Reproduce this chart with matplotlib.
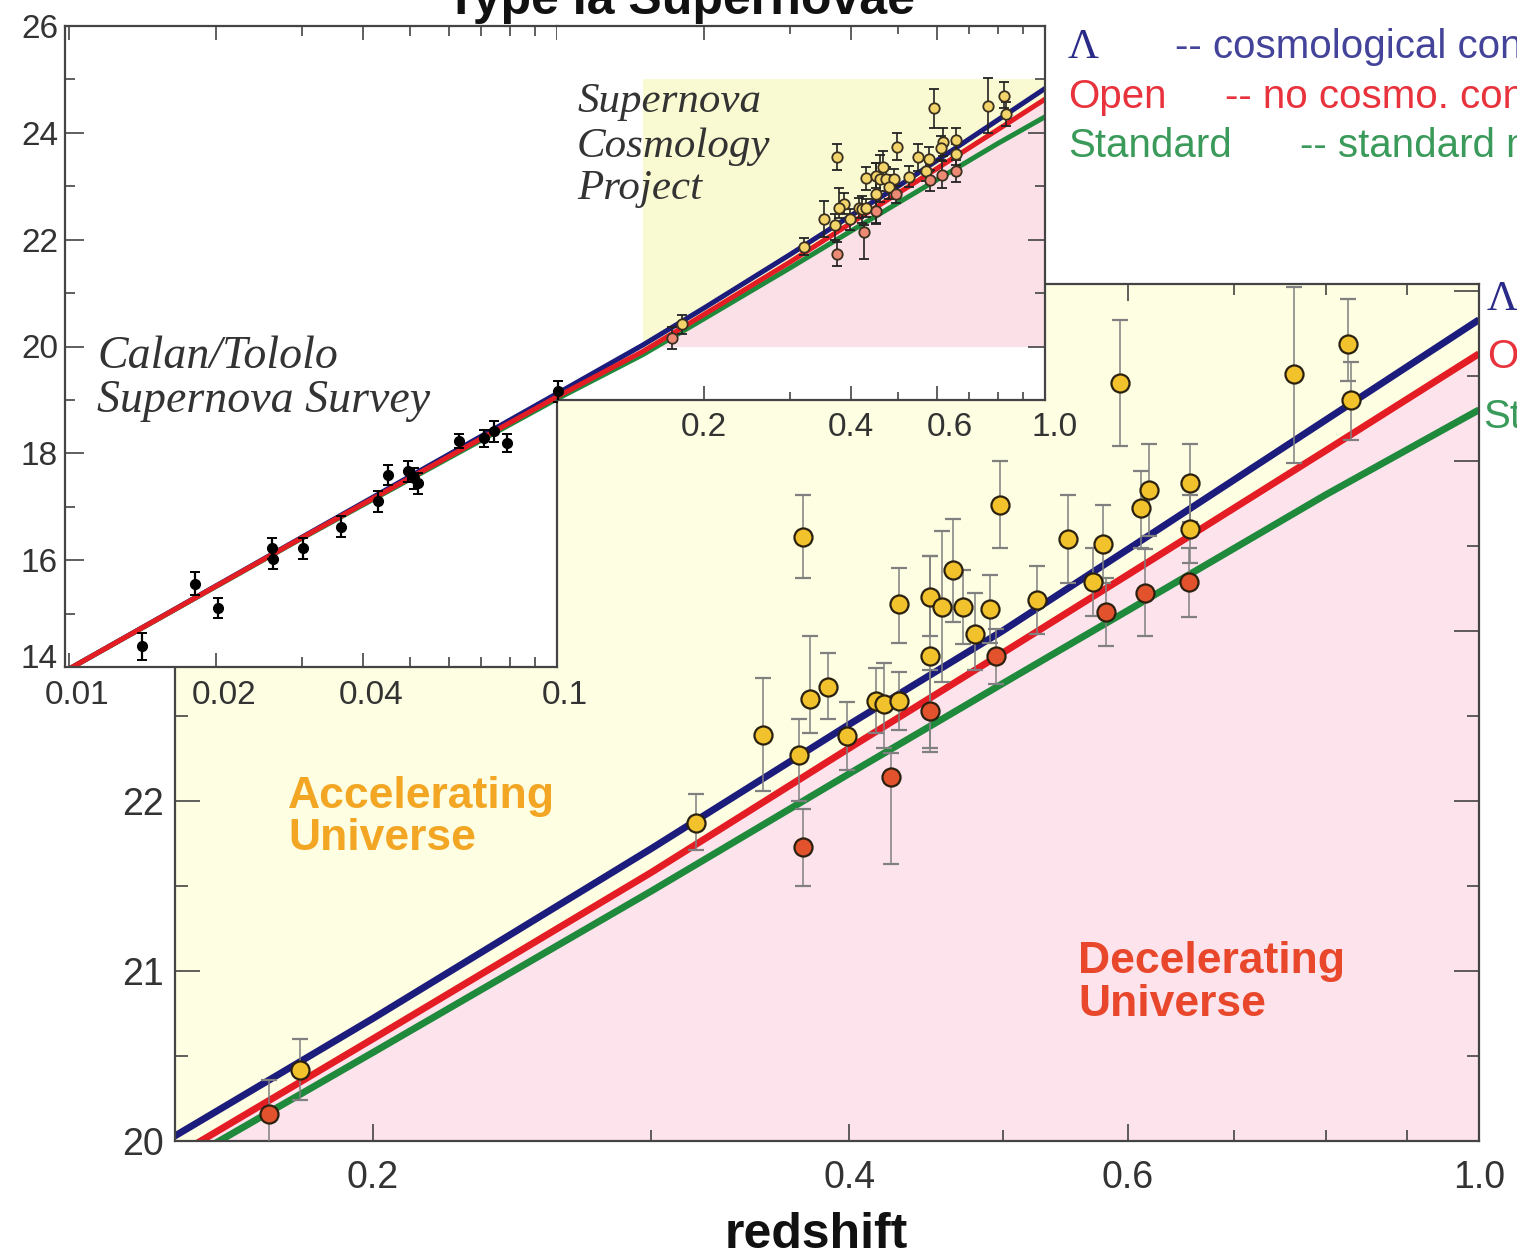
import numpy as np
import matplotlib
matplotlib.use("Agg")
import matplotlib.pyplot as plt
import matplotlib.transforms as mtrans
from matplotlib.ticker import NullFormatter

plt.rcParams['font.family'] = ['Liberation Sans', 'DejaVu Sans']

# ---------------- data ----------------
# model curves (redshift, effective magnitude)
model_z = [0.0098, 0.03, 0.1, 0.15, 0.2, 0.3, 0.4, 0.5, 0.6, 0.8, 1.0]
m_lambda = [13.92, 16.43, 19.12, 20.03, 20.72, 21.72, 22.45, 23.00, 23.48, 24.24, 24.83]
m_open = [13.92, 16.42, 19.06, 19.91, 20.60, 21.58, 22.31, 22.87, 23.33, 24.06, 24.63]
m_standard = [13.92, 16.41, 19.02, 19.85, 20.52, 21.47, 22.16, 22.69, 23.12, 23.80, 24.30]

# Supernova Cosmology Project (high-z) supernovae
scp_z = [0.374, 0.498, 0.465, 0.430, 0.450, 0.458, 0.472, 0.491, 0.480, 0.450,
         0.495, 0.450, 0.388, 0.378, 0.416, 0.421, 0.430, 0.353, 0.399, 0.372,
         0.425, 0.374, 0.320, 0.593, 0.764, 0.826, 0.830, 0.657, 0.657, 0.656,
         0.619, 0.612, 0.615, 0.550, 0.579, 0.570, 0.581, 0.526, 0.180, 0.172]
scp_m = [23.55, 23.74, 23.36, 23.16, 23.20, 23.14, 23.14, 23.13, 22.98, 22.85,
         22.85, 22.53, 22.67, 22.60, 22.59, 22.57, 22.59, 22.39, 22.38, 22.27,
         22.14, 21.73, 21.87, 24.46, 24.51, 24.69, 24.36, 23.87, 23.60, 23.29,
         23.83, 23.72, 23.22, 23.54, 23.51, 23.29, 23.11, 23.18, 20.42, 20.16]
scp_err_lo = [0.24, 0.25, 0.31, 0.23, 0.23, 0.44, 0.22, 0.20, 0.21, 0.54,
              0.16, 0.24, 0.19, 0.20, 0.19, 0.26, 0.17, 0.33, 0.20, 0.27,
              0.51, 0.23, 0.16, 0.37, 0.52, 0.22, 0.24, 0.23, 0.20, 0.21,
              0.27, 0.23, 0.25, 0.26, 0.23, 0.20, 0.20, 0.20, 0.18, 0.20]
scp_err_hi = [0.25, 0.26, 0.30, 0.21, 0.24, 0.45, 0.22, 0.20, 0.24, 0.59,
              0.16, 0.24, 0.20, 0.37, 0.19, 0.24, 0.17, 0.33, 0.20, 0.21,
              0.14, 0.22, 0.17, 0.37, 0.51, 0.26, 0.22, 0.23, 0.20, 0.20,
              0.27, 0.22, 0.26, 0.26, 0.23, 0.20, 0.20, 0.20, 0.18, 0.20]
scp_kind = ['Y', 'Y', 'Y', 'Y', 'Y', 'Y', 'Y', 'Y', 'Y', 'Y',
            'R', 'R', 'Y', 'Y', 'Y', 'Y', 'Y', 'Y', 'Y', 'Y',
            'R', 'R', 'Y', 'Y', 'Y', 'Y', 'Y', 'Y', 'Y', 'R',
            'Y', 'Y', 'R', 'Y', 'Y', 'Y', 'R', 'Y', 'Y', 'R']

# Calan/Tololo (low-z) supernovae
ctss_z = [0.0141, 0.0181, 0.0202, 0.0261, 0.0262, 0.0302, 0.0360, 0.0430, 0.0451,
          0.0495, 0.0510, 0.0518, 0.0630, 0.0708, 0.0742, 0.0789, 0.1005]
ctss_m = [14.39, 15.56, 15.11, 16.22, 16.03, 16.22, 16.63, 17.10, 17.59,
          17.66, 17.53, 17.44, 18.23, 18.28, 18.41, 18.19, 19.16]
ctss_err = [0.25, 0.22, 0.19, 0.20, 0.20, 0.20, 0.20, 0.19, 0.19,
            0.20, 0.20, 0.20, 0.13, 0.16, 0.19, 0.17, 0.19]

# axes ranges and ticks
main_zlim = [0.15, 1.0]
main_mlim = [20.0, 25.04]
highlight_m = [20.0, 25.0]
main_xticks = [0.2, 0.4, 0.6, 1.0]
main_xticklabels = ["0.2", "0.4", "0.6", "1.0"]
main_xminor = [0.3, 0.5, 0.7, 0.8, 0.9]
main_yticks = [20, 21, 22, 23, 24, 25]
main_yminor = [20.5, 21.5, 22.5, 23.5, 24.5]
inset_lo_zlim = [0.0098, 0.1]
inset_hi_zlim = [0.1, 1.0]
inset_mlim = [14.0, 26.0]
inset_cut_m = 19.0
inset_lo_xticks = [0.01, 0.02, 0.04, 0.1]
inset_lo_xticklabels = ["0.01", "0.02", "0.04", "0.1"]
inset_lo_xminor = [0.03, 0.05, 0.06, 0.07, 0.08, 0.09]
inset_hi_xticks = [0.2, 0.4, 0.6, 1.0]
inset_hi_xticklabels = ["0.2", "0.4", "0.6", "1.0"]
inset_hi_xminor = [0.3, 0.5, 0.7, 0.8, 0.9]
inset_yticks = [14, 16, 18, 20, 22, 24, 26]
inset_yminor = [15, 17, 19, 21, 23, 25]

# ---------------- styles ----------------
NAVY = '#1c1c7c'
RED = '#e41c24'
GREEN = '#1f8a3c'
YEL_BG = '#fefee3'
PINK_BG = '#fde3ec'
YEL_BG2 = '#fafad2'
PINK_BG2 = '#fbe0e8'
GOLD = '#f2c22c'
RED_PT = '#e2522c'
AXC = '#444444'

W, H = 1517, 1260
fig = plt.figure(figsize=(W / 100, H / 100), dpi=100)


def rect(l, t, r, b):
    return [l / W, 1 - b / H, (r - l) / W, (b - t) / H]


def ftext(px, py, s, **kw):
    fig.text(px / W, 1 - py / H, s, **kw)


def nudge(label, dx_px, dy_px):
    off = mtrans.ScaledTranslation(dx_px / 100, dy_px / 100, fig.dpi_scale_trans)
    label.set_transform(label.get_transform() + off)


mz = np.array(model_z)
ml = np.array(m_lambda)
mo = np.array(m_open)
mst = np.array(m_standard)
Z = np.array(scp_z)
M = np.array(scp_m)
LO = np.array(scp_err_lo)
HI = np.array(scp_err_hi)
K = np.array(scp_kind)

# ---------------- main axes ----------------
ax = fig.add_axes(rect(175, 284, 1479, 1141))
ax.set_xscale('log')
ax.set_xlim(*main_zlim)
ax.set_ylim(*main_mlim)
ax.fill_between(mz, mo, 40, color=YEL_BG, lw=0, zorder=0)
ax.fill_between(mz, 0, mo, color=PINK_BG, lw=0, zorder=0)
ax.plot(mz, ml, color=NAVY, lw=5, zorder=2, solid_capstyle='butt')
ax.plot(mz, mo, color=RED, lw=5, zorder=2, solid_capstyle='butt')
ax.plot(mz, mst, color=GREEN, lw=5, zorder=2, solid_capstyle='butt')
for kind, fc in (('Y', GOLD), ('R', RED_PT)):
    sel = K == kind
    ax.errorbar(Z[sel], M[sel], yerr=[LO[sel], HI[sel]], fmt='o', ms=13,
                mfc=fc, mec='#2a2010', mew=1.6, ecolor='#808080',
                elinewidth=1.1, capsize=6, capthick=1.1, zorder=4)
ax.set_xticks(main_xticks, main_xticklabels)
ax.set_xticks(main_xminor, minor=True)
ax.xaxis.set_minor_formatter(NullFormatter())
ax.set_yticks(main_yticks, [str(v) for v in main_yticks])
ax.set_yticks(main_yminor, minor=True)
ax.tick_params(which='both', direction='in', top=True, right=True,
               colors=AXC, labelcolor='#333333', labelsize=27, width=1.2)
ax.tick_params(axis='y', which='major', length=18, pad=8)
ax.tick_params(axis='y', which='minor', length=9)
ax.tick_params(axis='x', which='major', length=12, pad=14)
ax.tick_params(axis='x', which='minor', length=8)
for sp in ax.spines.values():
    sp.set_color(AXC)
    sp.set_linewidth(1.6)

# ---------------- inset (two pieces forming an L shape) ----------------
axA = fig.add_axes(rect(65, 26, 557, 667))
axB = fig.add_axes(rect(557, 26, 1045, 400))
axA.set_xscale('log')
axB.set_xscale('log')
axA.set_xlim(*inset_lo_zlim)
axB.set_xlim(*inset_hi_zlim)
axA.set_ylim(*inset_mlim)
axB.set_ylim(inset_cut_m, inset_mlim[1])

sel_hl = mz >= main_zlim[0]
axB.fill_between([main_zlim[0], main_zlim[1]], highlight_m[0], highlight_m[1],
                 color=YEL_BG2, lw=0, zorder=0)
axB.fill_between(mz[sel_hl], highlight_m[0], np.minimum(mo[sel_hl], highlight_m[1]),
                 color=PINK_BG2, lw=0, zorder=0)

for a in (axA, axB):
    a.set_facecolor('white')
    a.plot(mz, ml, color=NAVY, lw=3.6, zorder=2)
    a.plot(mz, mst, color=GREEN, lw=3.6, zorder=2)
    a.plot(mz, mo, color=RED, lw=3.6, zorder=2)
    a.errorbar(ctss_z, ctss_m, yerr=ctss_err, fmt='o', ms=7, mfc='black',
               mec='black', ecolor='black', elinewidth=1.6, capsize=3.5,
               capthick=1.4, zorder=4)
    for kind, fc in (('Y', '#f3d46a'), ('R', '#ec8a76')):
        sel = K == kind
        a.errorbar(Z[sel], M[sel], yerr=[LO[sel], HI[sel]], fmt='o', ms=7.5,
                   mfc=fc, mec='#3a3020', mew=1.3, ecolor='#222222',
                   elinewidth=1.2, capsize=3.5, capthick=1.2, zorder=4)
    for sp in a.spines.values():
        sp.set_color(AXC)
        sp.set_linewidth(1.6)

axA.spines['right'].set_bounds(inset_mlim[0], inset_cut_m)
axB.spines['left'].set_visible(False)

axA.set_xticks(inset_lo_xticks, inset_lo_xticklabels)
axA.set_xticks(inset_lo_xminor, minor=True)
axA.xaxis.set_minor_formatter(NullFormatter())
axA.set_yticks(inset_yticks, [str(v) for v in inset_yticks])
axA.set_yticks(inset_yminor, minor=True)
axA.tick_params(which='both', direction='in', top=True, right=False,
                colors=AXC, labelcolor='#333333', labelsize=24, width=1.2)
axA.tick_params(axis='y', which='major', length=14, pad=5)
axA.tick_params(axis='y', which='minor', length=7)
axA.tick_params(axis='x', which='major', length=10, pad=9)
axA.tick_params(axis='x', which='minor', length=7)

axB.set_xticks(inset_hi_xticks, inset_hi_xticklabels)
axB.set_xticks(inset_hi_xminor, minor=True)
axB.xaxis.set_minor_formatter(NullFormatter())
axB.set_yticks([v for v in inset_yticks if v >= inset_cut_m])
axB.set_yticks([v for v in inset_yminor if v >= inset_cut_m], minor=True)
axB.tick_params(which='both', direction='in', top=True, left=False, right=True,
                labelleft=False, labelright=False,
                colors=AXC, labelcolor='#333333', labelsize=24, width=1.2)
axB.tick_params(axis='y', which='major', length=12)
axB.tick_params(axis='y', which='minor', length=7)
axB.tick_params(axis='x', which='major', length=10, pad=9)
axB.tick_params(axis='x', which='minor', length=6)

# small label placement tweaks, as in the original artwork
ylabsA = axA.get_yticklabels()
nudge(ylabsA[0], 0, 11)            # "14" sits a little above its tick
for lab in axA.get_xticklabels():
    nudge(lab, 8, 0)
xlabsB = axB.get_xticklabels()
nudge(xlabsB[2], 13, 0)            # "0.6"
nudge(xlabsB[3], 10, 0)            # "1.0"

# ---------------- texts ----------------
ftext(680, 14, "Type Ia Supernovae", ha='center', va='baseline',
      fontsize=36, fontweight='bold', color='#111111')
ftext(816, 1248, "redshift", ha='center', va='baseline',
      fontsize=36, fontweight='bold', color='#111111')

# legend (runs off the right edge, as in the original)
ftext(1068, 58, "Λ", family='Liberation Serif', fontsize=31, color='#2a2a88', va='baseline')
ftext(1175, 58, "-- cosmological constant", fontsize=29, color='#43439a', va='baseline')
ftext(1068, 108, "Open", fontsize=29, color='#e8323c', va='baseline')
ftext(1225, 108, "-- no cosmo. constant", fontsize=29, color='#e8323c', va='baseline')
ftext(1068, 157, "Standard", fontsize=29, color='#3a9a5a', va='baseline')
ftext(1300, 157, "-- standard model", fontsize=29, color='#3a9a5a', va='baseline')

# line labels at the right of the main panel
ftext(1487, 310, "Λ", family='Liberation Serif', fontsize=31, color='#2a2a88', va='baseline')
ftext(1487, 368, "Open", fontsize=29, color='#e8323c', va='baseline')
ftext(1483, 428, "Standard", fontsize=29, color='#3a9a5a', va='baseline')

# region labels
ftext(288, 808, "Accelerating", fontsize=32, fontweight='bold', color='#f2a623', va='baseline')
ftext(288, 850, "Universe", fontsize=32, fontweight='bold', color='#f2a623', va='baseline')
ftext(1078, 973, "Decelerating", fontsize=32, fontweight='bold', color='#e8472b', va='baseline')
ftext(1078, 1016, "Universe", fontsize=32, fontweight='bold', color='#e8472b', va='baseline')

# survey labels in the inset
serif = dict(family='Liberation Serif', style='italic', color='#333333', va='baseline')
ftext(97, 368, "Calan/Tololo", fontsize=33, **serif)
ftext(97, 412, "Supernova Survey", fontsize=33, **serif)
ftext(577, 112, "Supernova", fontsize=31, **serif)
ftext(577, 157, "Cosmology", fontsize=31, **serif)
ftext(577, 199, "Project", fontsize=31, **serif)

fig.savefig("out.png", dpi=100)
